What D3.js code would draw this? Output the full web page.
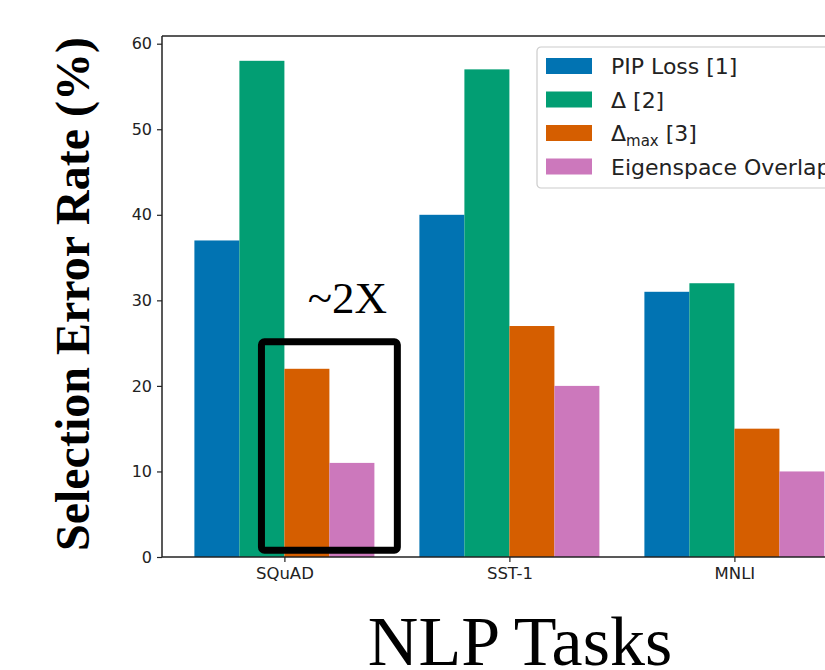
<!DOCTYPE html>
<html>
<head>
<meta charset="utf-8">
<script src="https://cdn.jsdelivr.net/npm/d3@7"></script>
<style>
  body { margin: 0; background: #fff; overflow: hidden; }
  svg { display: block; }
</style>
</head>
<body>
<script>
// Selection error rate per task, one array per method
var tasks = ["SQuAD", "SST-1", "MNLI"];
var methods = ["PIP Loss [1]", "\u0394 [2]", "\u0394max [3]", "Eigenspace Overlap"];
var pipLoss = [37, 40, 31];
var delta = [58, 57, 32];
var deltaMax = [22, 27, 15];
var eigenOverlap = [11, 20, 10];
var yTicks = [0, 10, 20, 30, 40, 50, 60];
var colors = ["#0173b2", "#029e73", "#d55e00", "#cc78bc"];

var series = [pipLoss, delta, deltaMax, eigenOverlap];

var width = 825, height = 670;
var svg = d3.select("body").append("svg").attr("width", width).attr("height", height);

// plot area (right side runs past the window, like the original crop)
var plotLeft = 162, plotTop = 36, plotBottom = 557;
var barW = 0.2;

var x = d3.scaleLinear().domain([-0.544, 2.536]).range([plotLeft, plotLeft + 3.08 * 225]);
var y = d3.scaleLinear().domain([0, 60.9]).range([plotBottom, plotTop]);

// bars
series.forEach(function(vals, s) {
  svg.selectAll(".bar" + s).data(vals).enter().append("rect")
    .attr("class", "bar" + s)
    .attr("x", function(d, i) { return x(i + (s - 1.5) * barW - barW / 2); })
    .attr("width", x(barW) - x(0))
    .attr("y", function(d) { return y(d); })
    .attr("height", function(d) { return y(0) - y(d); })
    .attr("fill", colors[s]);
});

// axes
var yAxis = d3.axisLeft(y).tickValues(yTicks).tickSize(5).tickPadding(5);
var gy = svg.append("g").attr("transform", "translate(" + plotLeft + ",0)").call(yAxis);
gy.select(".domain").remove();
gy.selectAll("text").attr("font-family", "DejaVu Sans").attr("font-size", "16px").attr("fill", "#222");
gy.selectAll("line").attr("stroke", "#222").attr("stroke-width", 1.2);

var xAxis = d3.axisBottom(x).tickValues([0, 1, 2]).tickFormat(function(d) { return tasks[d]; })
  .tickSize(5).tickPadding(5);
var gx = svg.append("g").attr("transform", "translate(0," + plotBottom + ")").call(xAxis);
gx.select(".domain").remove();
gx.selectAll("text").attr("font-family", "DejaVu Sans").attr("font-size", "16.5px").attr("fill", "#222");
gx.selectAll("line").attr("stroke", "#222").attr("stroke-width", 1.2);

// spines: left, top, bottom
svg.append("line").attr("x1", plotLeft).attr("x2", plotLeft).attr("y1", plotTop).attr("y2", plotBottom)
  .attr("stroke", "#222").attr("stroke-width", 1.5);
svg.append("line").attr("x1", plotLeft).attr("x2", width + 10).attr("y1", plotTop).attr("y2", plotTop)
  .attr("stroke", "#222").attr("stroke-width", 1.5);
svg.append("line").attr("x1", plotLeft).attr("x2", width + 10).attr("y1", plotBottom).attr("y2", plotBottom)
  .attr("stroke", "#222").attr("stroke-width", 1.5);

// legend
var legend = svg.append("g").attr("transform", "translate(537,47)");
legend.append("rect").attr("x", 0).attr("y", 0).attr("width", 320).attr("height", 141)
  .attr("rx", 4).attr("fill", "#fff").attr("fill-opacity", 0.8)
  .attr("stroke", "#ccc").attr("stroke-width", 1.2);
methods.forEach(function(m, i) {
  var row = legend.append("g").attr("transform", "translate(0," + (20 + i * 33.5) + ")");
  row.append("rect").attr("x", 9).attr("y", -9).attr("width", 46).attr("height", 16).attr("fill", colors[i]);
  var t = row.append("text").attr("x", 74).attr("y", 7)
    .attr("font-family", "DejaVu Sans").attr("font-size", "22px").attr("fill", "#222");
  if (i == 2) {
    t.append("tspan").text("\u0394");
    t.append("tspan").attr("font-size", "15px").attr("dy", 5).text("max");
    t.append("tspan").attr("dy", -5).text(" [3]");
  } else {
    t.text(m);
  }
});

// annotation box around SQuAD orange/pink bars
svg.append("rect")
  .attr("x", x(-0.102)).attr("y", y(25.15))
  .attr("width", x(0.502) - x(-0.102)).attr("height", y(0.8) - y(25.15))
  .attr("rx", 3).attr("fill", "none").attr("stroke", "#000").attr("stroke-width", 7);

svg.append("text")
  .attr("x", x(0.28)).attr("y", y(28.5))
  .attr("text-anchor", "middle")
  .attr("font-family", "Liberation Serif").attr("font-size", "45px").attr("fill", "#000")
  .text("~2X");

// axis titles
svg.append("text")
  .attr("transform", "translate(89,294) rotate(-90)")
  .attr("text-anchor", "middle")
  .attr("font-family", "Liberation Serif").attr("font-weight", "bold").attr("font-size", "48px")
  .attr("fill", "#000")
  .text("Selection Error Rate (%)");

svg.append("text")
  .attr("x", 520).attr("y", 665)
  .attr("text-anchor", "middle")
  .attr("font-family", "Liberation Serif").attr("font-size", "70px").attr("fill", "#000")
  .text("NLP Tasks");
</script>
</body>
</html>
